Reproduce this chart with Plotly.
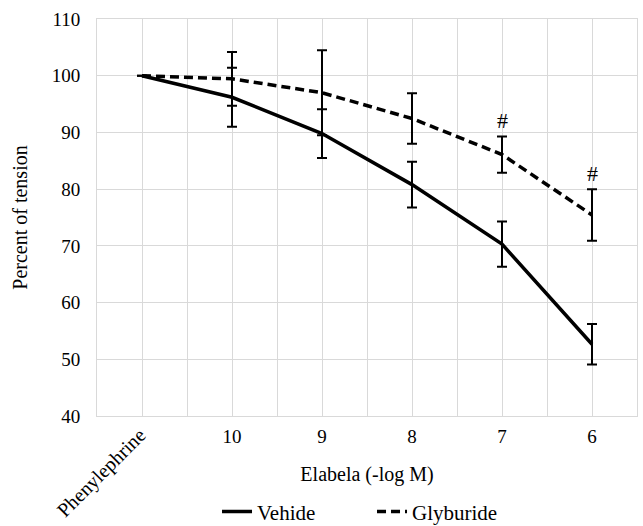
import plotly.graph_objects as go

categories = ["Phenylephrine", "10", "9", "8", "7", "6"]
vehide = [100, 96.2, 89.8, 80.8, 70.3, 52.65]
vehide_err = [0, 5.2, 4.3, 4.05, 4.0, 3.55]
glyburide = [100, 99.45, 97.0, 92.45, 86.1, 75.45]
glyburide_err = [0, 4.75, 7.5, 4.45, 3.2, 4.55]
sig_marks = ["", "", "", "", "#", "#"]

xs = list(range(len(categories)))
FONT = "Liberation Serif, Times New Roman, Tinos, serif"

fig = go.Figure()
fig.add_trace(go.Scatter(
    x=xs, y=vehide, mode="lines", name="Vehide",
    line=dict(color="black", width=3.5),
    error_y=dict(type="data", array=vehide_err, visible=True, color="black",
                 thickness=2, width=5),
))
fig.add_trace(go.Scatter(
    x=xs, y=glyburide, mode="lines", name="Glyburide",
    line=dict(color="black", width=3.5, dash="9px,5px"),
    error_y=dict(type="data", array=glyburide_err, visible=True, color="black",
                 thickness=2, width=5),
))

for i, m in enumerate(sig_marks):
    if m:
        fig.add_annotation(x=xs[i], y=glyburide[i] + glyburide_err[i], text=m,
                           showarrow=False, yanchor="bottom", yshift=1,
                           font=dict(family=FONT, size=22, color="black"))

# Rotated first category label
fig.add_annotation(x=xs[0], y=0, yref="paper", text=categories[0], textangle=-45,
                   showarrow=False, xanchor="right", yanchor="top",
                   xshift=12, yshift=-5,
                   font=dict(family=FONT, size=20, color="black"))

grid = "#d9d9d9"
fig.update_layout(
    width=643, height=526,
    margin=dict(l=97, r=6, t=19, b=110, autoexpand=False),
    paper_bgcolor="white", plot_bgcolor="white",
    font=dict(family=FONT, size=19, color="black"),
    showlegend=True,
    legend=dict(orientation="h", x=0.3375, xref="container", xanchor="left",
                y=0.027, yref="container", yanchor="middle",
                font=dict(family=FONT, size=21), entrywidth=110),
    xaxis=dict(
        range=[-0.5, 5.5], tickmode="array", tickvals=xs,
        ticktext=[""] + categories[1:], automargin=False,
        showgrid=True, gridcolor=grid, gridwidth=1,
        minor=dict(tickmode="linear", tick0=0.5, dtick=1, showgrid=True,
                   gridcolor=grid, gridwidth=1),
        showline=True, linecolor=grid, linewidth=1, mirror=True,
        zeroline=False, ticks="", ticklabelstandoff=3,
        tickfont=dict(family=FONT, size=19),
        title=dict(text="Elabela (-log M)", font=dict(family=FONT, size=20), standoff=21),
    ),
    yaxis=dict(
        range=[40, 110], tickmode="linear", tick0=40, dtick=10, automargin=False,
        showgrid=True, gridcolor=grid, gridwidth=1,
        showline=True, linecolor=grid, linewidth=1, mirror=True,
        zeroline=False, ticks="", ticklabelstandoff=12,
        tickfont=dict(family=FONT, size=19),
        title=dict(text="Percent of tension", font=dict(family=FONT, size=20), standoff=18),
    ),
)

fig.write_html("out.html", config={"displayModeBar": False},
               post_script="document.body.style.margin='0';document.body.style.padding='0';")
